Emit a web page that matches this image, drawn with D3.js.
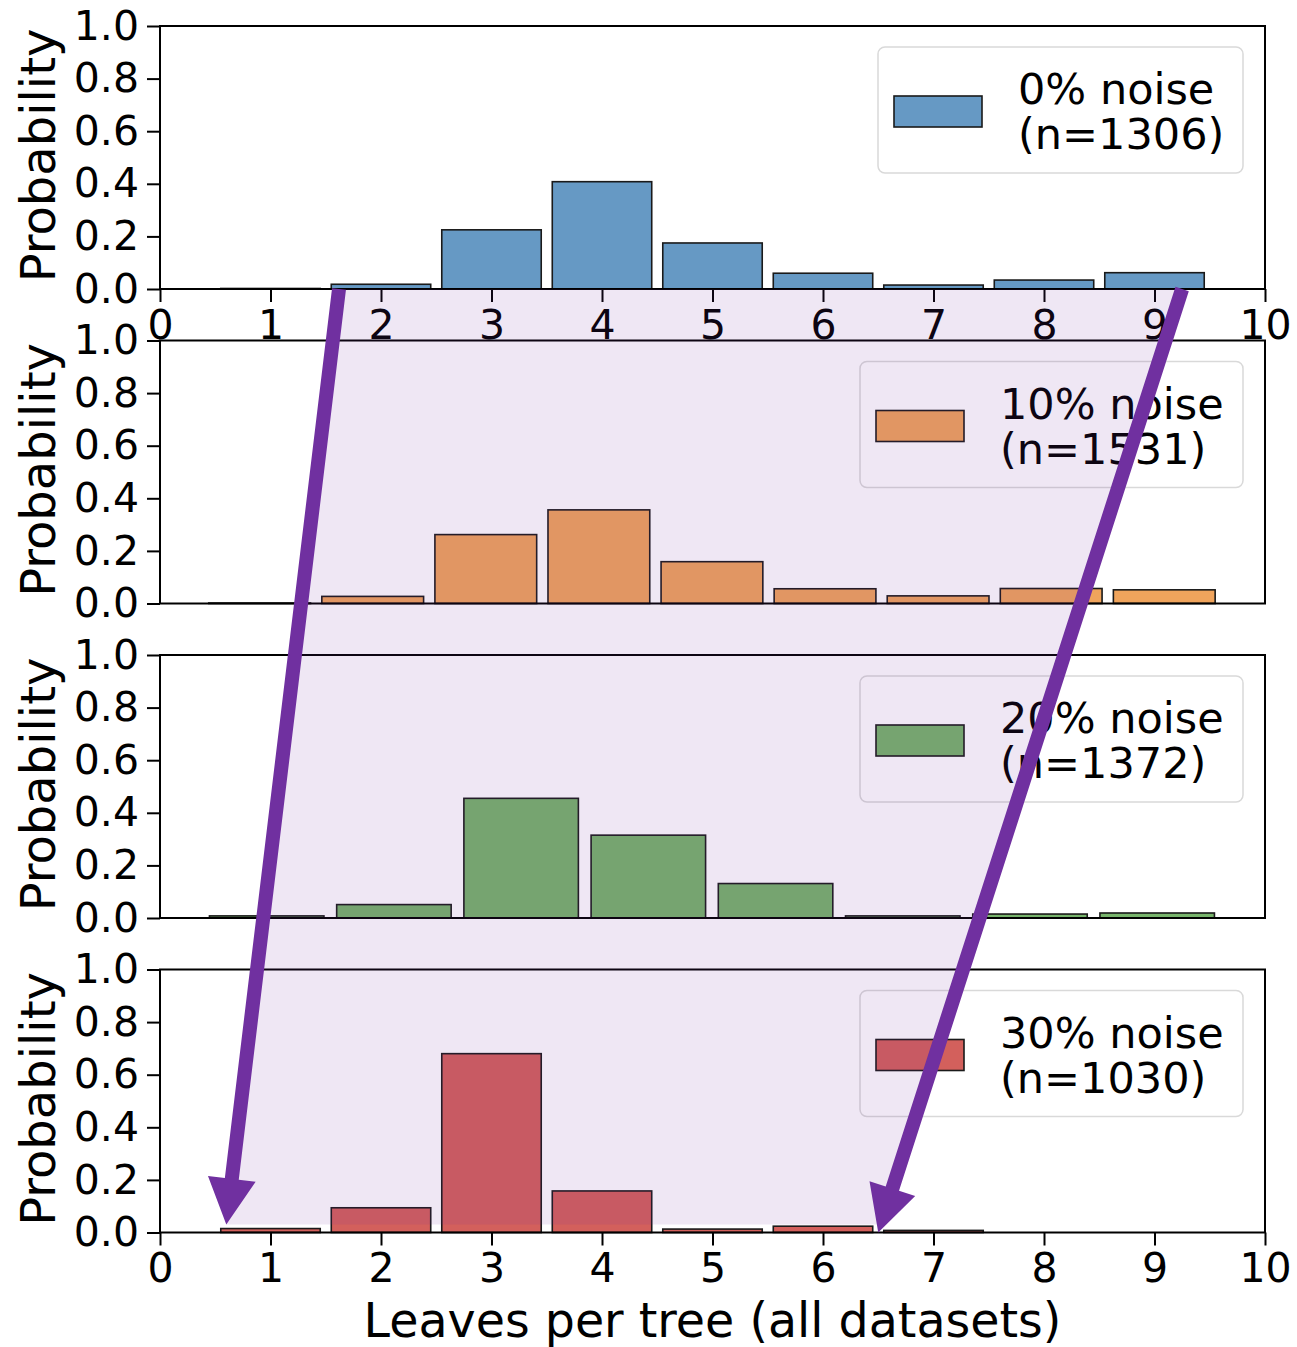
<!DOCTYPE html>
<html lang="en">
<head>
    <meta charset="UTF-8">
    <script src="https://d3js.org/d3.v7.min.js"></script>
    <title>Leaves per tree</title>
    <style>
        body {
            margin: 0;
            overflow: hidden;
            background: white;
        }

        text {
            font-family: "DejaVu Sans", sans-serif;
        }
    </style>
</head>
<body>
    <script>
        // panel data: probability of each bin, per noise level
        const noiseLabels = ["0% noise", "10% noise", "20% noise", "30% noise"];
        const sampleCounts = [1306, 1531, 1372, 1030];
        const binStart = [0.5, 0.39, 0.39, 0.5];
        const binEnd = [9.5, 9.6, 9.6, 7.5];
        const probs0 = [0.002, 0.018, 0.225, 0.408, 0.175, 0.06, 0.015, 0.034, 0.062];
        const probs10 = [0.002, 0.027, 0.262, 0.356, 0.159, 0.056, 0.029, 0.057, 0.052];
        const probs20 = [0.008, 0.051, 0.455, 0.315, 0.131, 0.008, 0.015, 0.019];
        const probs30 = [0.015, 0.094, 0.68, 0.158, 0.013, 0.024, 0.008];
        const xTicks = [0, 1, 2, 3, 4, 5, 6, 7, 8, 9, 10];
        const yTicks = [0.0, 0.2, 0.4, 0.6, 0.8, 1.0];

        // annotation: arrows from top panel (x, y) to bottom panel (x, y)
        const arrowFrom = [[1.62, 0], [9.25, 0]];
        const arrowTo = [[0.6, 0.03], [6.5, 0.0]];

        const allProbs = [probs0, probs10, probs20, probs30];
        const colors = ["#6699c4", "#f0a45c", "#77b46b", "#d3605c"];

        const width = 1297,
              height = 1347;

        const svg = d3.select('body')
            .append('svg')
            .attr('width', width)
            .attr('height', height);

        const margin = { left: 160, right: 32, top: 26 };
        const panelH = 263,
              panelStep = 314.5;

        const x = d3.scaleLinear()
            .domain([0, 10])
            .range([margin.left, width - margin.right]);

        const yScales = allProbs.map((p, i) => d3.scaleLinear()
            .domain([0, 1])
            .range([margin.top + i * panelStep + panelH, margin.top + i * panelStep]));

        allProbs.forEach((probs, i) => {
            const y = yScales[i];
            const g = svg.append('g');
            const bw = (binEnd[i] - binStart[i]) / probs.length;
            const bins = probs.map((p, j) => ({
                x0: binStart[i] + j * bw,
                x1: binStart[i] + (j + 1) * bw,
                p: p
            }));

            // bars, rwidth 0.9
            g.selectAll('rect.bar')
                .data(bins)
                .enter()
                .append('rect')
                .attr('class', 'bar')
                .attr('x', d => x(d.x0 + bw * 0.05))
                .attr('width', d => x(d.x0 + bw * 0.95) - x(d.x0 + bw * 0.05))
                .attr('y', d => y(d.p))
                .attr('height', d => y(0) - y(d.p))
                .attr('fill', colors[i])
                .attr('stroke', '#1a1a1a')
                .attr('stroke-width', 1.6);

            // y axis
            const yAxis = d3.axisLeft(y).tickValues(yTicks).tickFormat(d3.format('.1f')).tickSize(13).tickPadding(8);
            const yg = g.append('g')
                .attr('transform', `translate(${margin.left}, 0)`)
                .call(yAxis);
            yg.select('.domain').remove();
            yg.selectAll('.tick line').attr('stroke', 'black').attr('stroke-width', 2);
            yg.selectAll('.tick text')
                .attr('fill', 'black')
                .style('font-size', '41px')
                .attr('font-family', 'DejaVu Sans');

            // x axis only on the top and bottom panels (shared axis)
            if (i === 0 || i === 3) {
                const xAxis = d3.axisBottom(x).tickValues(xTicks).tickSize(13).tickPadding(5);
                const xg = g.append('g')
                    .attr('transform', `translate(0, ${y(0)})`)
                    .call(xAxis);
                xg.select('.domain').remove();
                xg.selectAll('.tick line').attr('stroke', 'black').attr('stroke-width', 2);
                xg.selectAll('.tick text')
                    .attr('fill', 'black')
                    .style('font-size', '41px')
                    .attr('font-family', 'DejaVu Sans')
                    .attr('dy', '0.78em');
            }

            // frame
            g.append('rect')
                .attr('x', x(0))
                .attr('y', y(1))
                .attr('width', x(10) - x(0))
                .attr('height', y(0) - y(1))
                .attr('fill', 'none')
                .attr('stroke', 'black')
                .attr('stroke-width', 2);

            // y label
            g.append('text')
                .attr('transform', `translate(55, ${(y(0) + y(1)) / 2 - 2}) rotate(-90)`)
                .attr('text-anchor', 'middle')
                .style('font-size', '48px')
                .text('Probability');

            // legend
            const lx = i === 0 ? 878 : 860;
            const ly = y(1) + 21;
            const legend = g.append('g').attr('transform', `translate(${lx}, ${ly})`);
            legend.append('rect')
                .attr('width', 1243 - lx)
                .attr('height', 126)
                .attr('rx', 7)
                .attr('fill', 'white')
                .attr('fill-opacity', 0.8)
                .attr('stroke', '#d9d9d9')
                .attr('stroke-width', 1.5);
            legend.append('rect')
                .attr('x', 16)
                .attr('y', 49)
                .attr('width', 88)
                .attr('height', 31)
                .attr('fill', colors[i])
                .attr('stroke', '#1a1a1a')
                .attr('stroke-width', 1.6);
            legend.append('text')
                .attr('x', 140)
                .attr('y', 57)
                .style('font-size', '43px')
                .text(noiseLabels[i]);
            legend.append('text')
                .attr('x', 140)
                .attr('y', 102)
                .style('font-size', '43px')
                .text(`(n=${sampleCounts[i]})`);
        });

        // x label
        svg.append('text')
            .attr('x', (x(0) + x(10)) / 2)
            .attr('y', 1337)
            .attr('text-anchor', 'middle')
            .style('font-size', '47.5px')
            .text('Leaves per tree (all datasets)');

        // shaded region between the arrows
        const yTop = yScales[0],
              yBot = yScales[3];
        const shade = [
            [x(arrowFrom[0][0]), yTop(arrowFrom[0][1])],
            [x(arrowFrom[1][0]), yTop(arrowFrom[1][1])],
            [x(arrowTo[1][0]), yBot(0.03)],
            [x(arrowTo[0][0]), yBot(0.03)]
        ];
        svg.append('polygon')
            .attr('points', shade.map(p => p.join(',')).join(' '))
            .attr('fill', '#7030a0')
            .attr('fill-opacity', 0.115);

        // arrows
        const arrowShape = (x1, y1, x2, y2) => {
            const dx = x2 - x1, dy = y2 - y1;
            const len = Math.sqrt(dx * dx + dy * dy);
            const ux = dx / len, uy = dy / len;
            const nx = -uy, ny = ux;
            const w = 7, h = 24, L = 46;
            const bx = x2 - ux * L, by = y2 - uy * L;
            const pts = [
                [x1 + nx * w, y1 + ny * w],
                [bx + nx * w, by + ny * w],
                [bx + nx * h, by + ny * h],
                [x2, y2],
                [bx - nx * h, by - ny * h],
                [bx - nx * w, by - ny * w],
                [x1 - nx * w, y1 - ny * w]
            ];
            return pts.map(p => p.join(',')).join(' ');
        };

        arrowFrom.forEach((a, k) => {
            svg.append('polygon')
                .attr('points', arrowShape(x(a[0]), yTop(a[1]), x(arrowTo[k][0]), yBot(arrowTo[k][1])))
                .attr('fill', '#7030a0');
        });
    </script>
</body>
</html>
